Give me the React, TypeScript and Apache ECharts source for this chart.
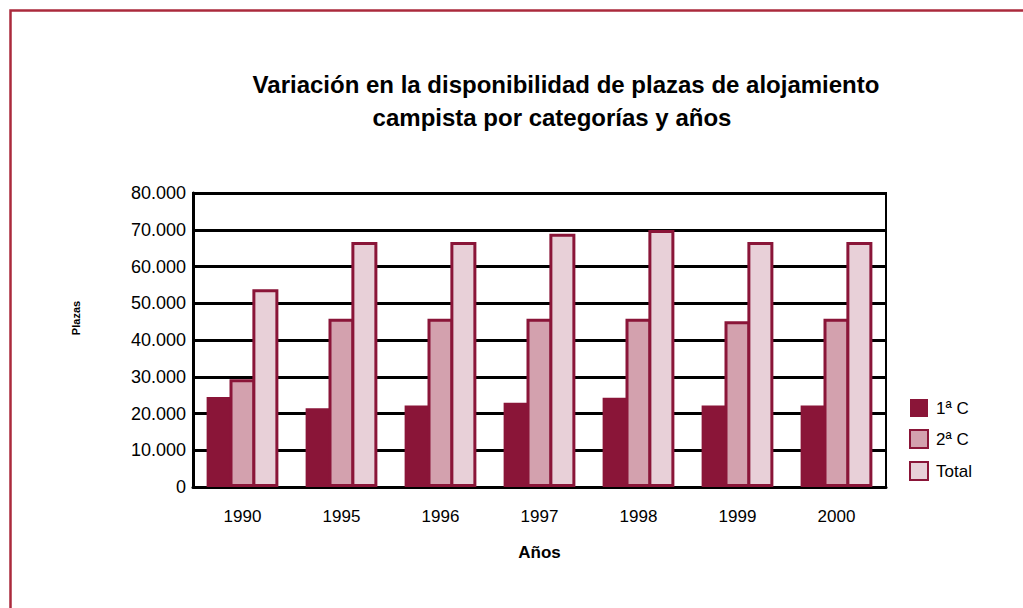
import React, { useEffect, useRef } from "react";
import * as echarts from "echarts";

const years = ["1990", "1995", "1996", "1997", "1998", "1999", "2000"];
const primera = [24500, 21400, 22200, 22900, 24300, 22200, 22200];
const segunda = [29300, 45800, 45800, 45800, 45800, 45100, 45800];
const total = [53800, 66700, 66700, 68900, 69900, 66700, 66700];
const seriesNames = ["1ª C", "2ª C", "Total"];
const yTicks = [0, 10000, 20000, 30000, 40000, 50000, 60000, 70000, 80000];
const titleLines = [
  "Variación en la disponibilidad de plazas de alojamiento",
  "campista por categorías y años",
];

const DARK = "#8a1538";
const FONT = "Liberation Sans, Arial, sans-serif";

function fmt(v: number): string {
  if (v === 0) return "0";
  return String(v).replace(/\B(?=(\d{3})+(?!\d))/g, ".");
}

const titleStyle = {
  fontFamily: FONT,
  fontSize: 24,
  fontWeight: "bold",
  color: "#000",
};

export default function App() {
  const ref = useRef<HTMLDivElement>(null);
  useEffect(() => {
    const chart = echarts.init(ref.current!, undefined, { renderer: "svg" });
    chart.setOption({
      animation: false,
      backgroundColor: "#ffffff",
      textStyle: { fontFamily: FONT },
      title: [
        { text: titleLines[0], left: 566, top: 72, textAlign: "center", padding: 0, textStyle: titleStyle },
        { text: titleLines[1], left: 552, top: 105, textAlign: "center", padding: 0, textStyle: titleStyle },
      ],
      graphic: [
        {
          type: "rect",
          shape: { x: 10.5, y: 10.5, width: 1100, height: 700 },
          style: { fill: "none", stroke: "#ab2a3c", lineWidth: 2.5 },
        },
        {
          type: "text",
          x: 76,
          y: 318,
          rotation: Math.PI / 2,
          style: {
            text: "Plazas",
            fontFamily: FONT,
            fontSize: 11,
            fontWeight: "bold",
            fill: "#000",
            align: "center",
            verticalAlign: "middle",
          },
        },
      ],
      legend: {
        data: seriesNames,
        orient: "vertical",
        left: 904,
        top: 394,
        padding: 5,
        itemWidth: 18,
        itemHeight: 18,
        itemGap: 12,
        icon: "rect",
        textStyle: { fontFamily: FONT, fontSize: 17, color: "#000", padding: [0, 0, 0, 3] },
      },
      grid: {
        left: 193,
        right: 137,
        top: 193,
        bottom: 121,
        show: true,
        borderColor: "#000",
        borderWidth: 2,
        backgroundColor: "transparent",
      },
      xAxis: {
        type: "category",
        data: years,
        axisLine: { show: true, lineStyle: { color: "#000", width: 3 } },
        axisTick: { show: false },
        axisLabel: { fontFamily: FONT, fontSize: 17, color: "#000", margin: 21 },
        name: "Años",
        nameLocation: "middle",
        nameGap: 57,
        nameTextStyle: { fontFamily: FONT, fontSize: 17, fontWeight: "bold", color: "#000" },
      },
      yAxis: {
        type: "value",
        min: yTicks[0],
        max: yTicks[yTicks.length - 1],
        interval: yTicks[1] - yTicks[0],
        axisLine: { show: true, lineStyle: { color: "#000", width: 3 } },
        axisTick: { show: false },
        splitLine: { show: true, lineStyle: { color: "#000", width: 3 } },
        axisLabel: {
          fontFamily: FONT,
          fontSize: 18,
          color: "#000",
          margin: 7,
          formatter: (v: number) => fmt(v),
        },
      },
      series: [
        {
          name: seriesNames[0],
          type: "bar",
          data: primera,
          barWidth: 26,
          barGap: "-12%",
          itemStyle: { color: DARK, borderColor: DARK, borderWidth: 0 },
        },
        {
          name: seriesNames[1],
          type: "bar",
          data: segunda,
          barWidth: 26,
          barGap: "-12%",
          itemStyle: { color: "#d3a1ae", borderColor: DARK, borderWidth: 3 },
        },
        {
          name: seriesNames[2],
          type: "bar",
          data: total,
          barWidth: 26,
          barGap: "-12%",
          itemStyle: { color: "#e8d0d8", borderColor: DARK, borderWidth: 3 },
        },
      ],
    });
    return () => chart.dispose();
  }, []);
  return (
    <div
      ref={ref}
      style={{ position: "fixed", left: 0, top: 0, width: 1023, height: 608 }}
    />
  );
}
